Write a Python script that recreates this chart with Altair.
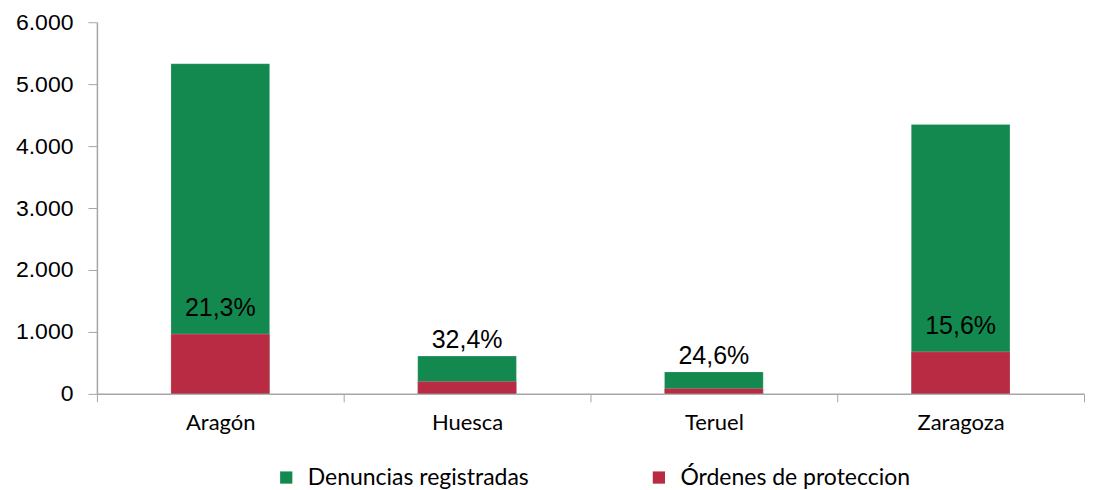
import altair as alt
import pandas as pd

regiones = ["Aragón", "Huesca", "Teruel", "Zaragoza"]
denuncias = [5330, 610, 355, 4350]
ordenes = [965, 198, 88, 680]
porcentajes = ["21,3%", "32,4%", "24,6%", "15,6%"]

serie_den = "Denuncias registradas"
serie_ord = "Órdenes de proteccion"
colores = ["#14894f", "#b92a43"]

rows = []
for r, d in zip(regiones, denuncias):
    rows.append({"region": r, "serie": serie_den, "valor": d})
for r, o in zip(regiones, ordenes):
    rows.append({"region": r, "serie": serie_ord, "valor": o})
bars_df = pd.DataFrame(rows)

lab_df = pd.DataFrame({
    "region": regiones,
    "den": denuncias,
    "ord": ordenes,
    "pct": porcentajes,
})

x_enc = alt.X(
    "region:N",
    sort=regiones,
    scale=alt.Scale(paddingInner=0, paddingOuter=0),
    axis=alt.Axis(
        title=None,
        labelAngle=0,
        tickBand="extent",
        tickSize=8,
        tickColor="#a6a6a6",
        domainColor="#a6a6a6",
        domainWidth=1.5,
        labelFont="Lato",
        labelFontSize=22,
        labelColor="#000000",
        labelPadding=11,
    ),
)

bars = alt.Chart(bars_df).mark_bar(
    width=alt.RelativeBandSize(0.4), stroke="#ffffff", strokeWidth=0.5, strokeOpacity=0.4
).encode(
    x=x_enc,
    y=alt.Y(
        "valor:Q",
        stack=None,
        scale=alt.Scale(domain=[0, 6000], nice=False),
        axis=alt.Axis(
            title=None,
            values=[0, 1000, 2000, 3000, 4000, 5000, 6000],
            labelExpr="replace(format(datum.value, ','), ',', '.')",
            grid=False,
            tickSize=9,
            tickColor="#a6a6a6",
            domainColor="#a6a6a6",
            domainWidth=1.5,
            labelFont="Liberation Sans",
            labelFontSize=23,
            labelColor="#000000",
            labelPadding=15,
        ),
    ),
    color=alt.Color(
        "serie:N",
        scale=alt.Scale(domain=[serie_den, serie_ord], range=colores),
        legend=alt.Legend(
            title=None,
            orient="none",
            direction="horizontal",
            legendX=178,
            legendY=444,
            symbolType="square",
            symbolSize=150,
            symbolStrokeWidth=0,
            labelFont="Lato",
            labelFontSize=23,
            labelColor="#000000",
            labelOffset=10,
            columnPadding=118,
            labelLimit=400,
            padding=0,
        ),
    ),
    order=alt.Order("serie:N"),
)

text_big = alt.Chart(lab_df).transform_filter("datum.den > 1000").mark_text(
    baseline="bottom", dy=-13, font="Liberation Sans", fontSize=25, color="#000000"
).encode(x=alt.X("region:N", sort=regiones), y="ord:Q", text="pct:N")

text_small = alt.Chart(lab_df).transform_filter("datum.den <= 1000").mark_text(
    baseline="bottom", dy=-3, font="Liberation Sans", fontSize=25, color="#000000"
).encode(x=alt.X("region:N", sort=regiones), y="den:Q", text="pct:N")

chart = alt.layer(bars, text_big, text_small).properties(
    width=988,
    height=372,
    padding={"left": 7, "top": 3, "right": 0, "bottom": 0},
    background="#ffffff",
).configure_view(stroke=None)

chart.save("out.html", embed_options={"renderer": "svg", "actions": False})
